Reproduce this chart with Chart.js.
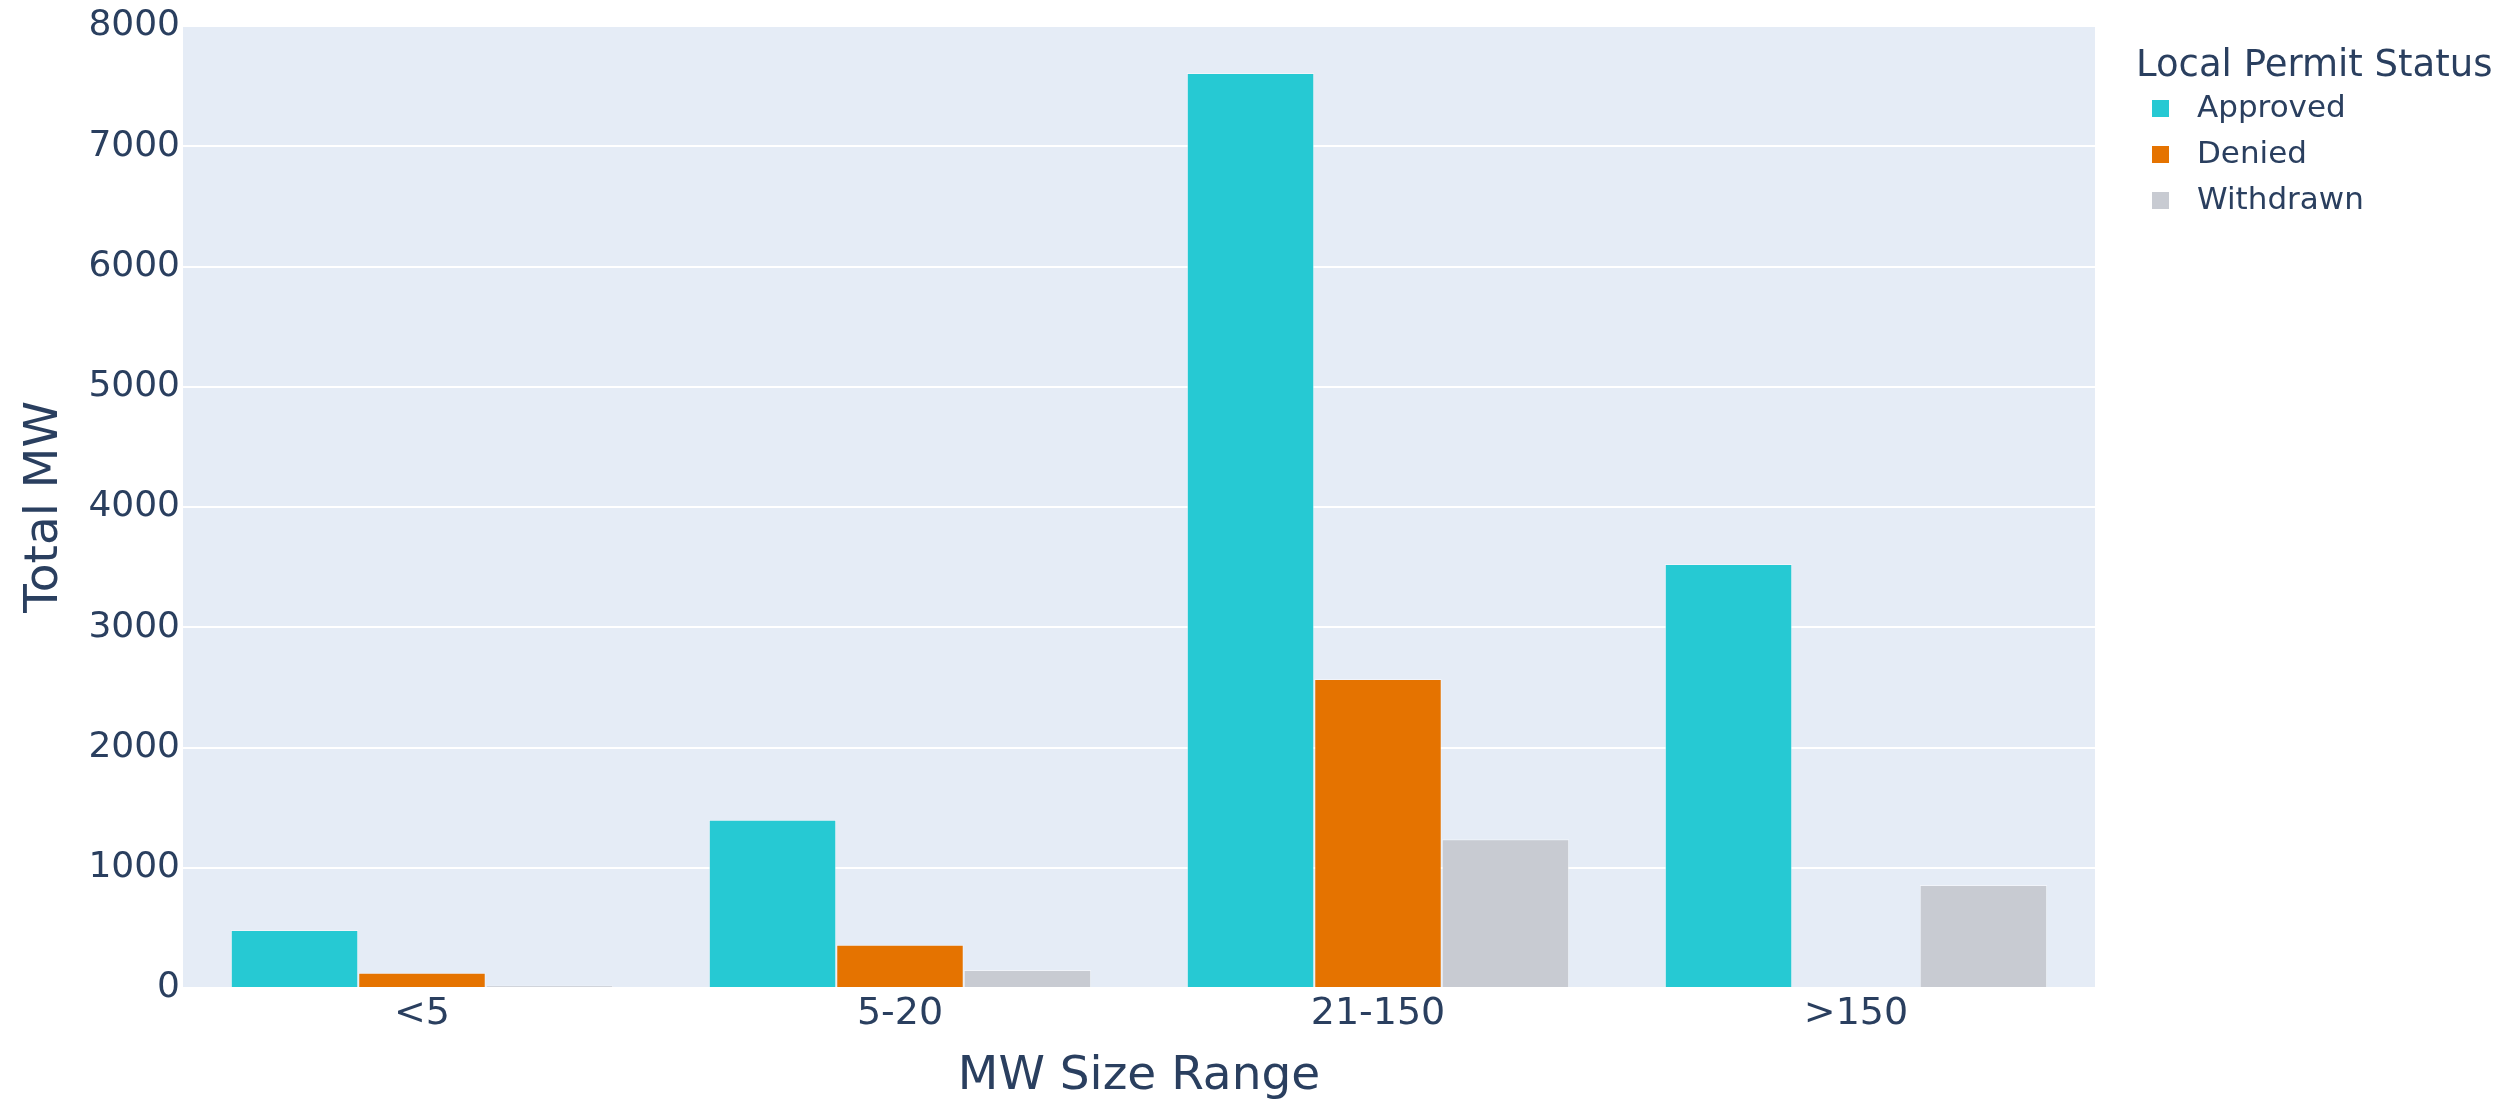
<!DOCTYPE html>
<html>
<head>
<meta charset="utf-8">
<script src="https://cdn.jsdelivr.net/npm/chart.js@4"></script>
<style>
  html, body { margin: 0; padding: 0; background: #ffffff; }
  #wrap { width: 2512px; height: 1105px; }
</style>
</head>
<body>
<div id="wrap"><canvas id="c" width="2512" height="1105"></canvas></div>
<script>
const categories = ['<5', '5-20', '21-150', '>150'];
const approved = [482, 1400, 7610, 3525];
const denied = [127, 360, 2570, 0];
const withdrawn = [20, 150, 1237, 857];
const seriesNames = ['Approved', 'Denied', 'Withdrawn'];
const seriesColors = ['#26C9D3', '#E57300', '#C8CBD2'];
const yTicks = [0, 1000, 2000, 3000, 4000, 5000, 6000, 7000, 8000];
const legendTitle = 'Local Permit Status';
const xTitle = 'MW Size Range';
const yTitle = 'Total MW';

const TEXT = '#2a3f5f';
const FONT = "'DejaVu Sans', Verdana, sans-serif";

const plotBg = {
  id: 'plotBg',
  beforeDraw(chart) {
    const {ctx, chartArea: a} = chart;
    ctx.save();
    ctx.fillStyle = '#E5ECF6';
    ctx.fillRect(a.left, a.top, a.right - a.left, a.bottom - a.top);
    ctx.restore();
  }
};

const sideLegend = {
  id: 'sideLegend',
  afterDraw(chart) {
    const {ctx} = chart;
    ctx.save();
    ctx.fillStyle = TEXT;
    ctx.textBaseline = 'middle';
    ctx.textAlign = 'left';
    ctx.font = '37px ' + FONT;
    ctx.fillText(legendTitle, 2136, 66);
    ctx.font = '31px ' + FONT;
    chart.data.datasets.forEach((ds, i) => {
      const cy = 108 + i * 46;
      ctx.fillStyle = ds.backgroundColor;
      ctx.fillRect(2152, cy - 8, 17, 17);
      ctx.fillStyle = TEXT;
      ctx.fillText(ds.label, 2197, cy + 1);
    });
    ctx.restore();
  }
};

const datasets = [approved, denied, withdrawn].map((vals, i) => ({
  label: seriesNames[i],
  data: vals,
  backgroundColor: seriesColors[i],
  borderColor: 'rgba(255,255,255,0.45)',
  borderWidth: 1,
  categoryPercentage: 0.8,
  barPercentage: 1.0
}));

new Chart(document.getElementById('c'), {
  type: 'bar',
  data: { labels: categories, datasets },
  plugins: [plotBg, sideLegend],
  options: {
    responsive: false,
    animation: false,
    devicePixelRatio: 1,
    layout: { padding: { left: 0, right: 417, top: 26, bottom: 0 } },
    plugins: { legend: { display: false }, tooltip: { enabled: false } },
    scales: {
      x: {
        grid: { display: false, drawTicks: false },
        border: { display: false },
        ticks: { color: TEXT, font: { family: FONT, size: 38 }, padding: 3, maxRotation: 0 },
        title: { display: true, text: xTitle, color: TEXT, font: { family: FONT, size: 47 }, padding: { top: 0, bottom: 0 } },
        afterFit(scale) { scale.height = 117; }
      },
      y: {
        min: 0, max: 8000,
        grid: { color: '#ffffff', lineWidth: 2, drawTicks: false },
        border: { display: false },
        afterBuildTicks(scale) { scale.ticks = yTicks.map(v => ({ value: v })); },
        ticks: { color: TEXT, font: { family: FONT, size: 36 }, padding: 3, callback: v => String(v) },
        title: { display: true, text: yTitle, color: TEXT, font: { family: FONT, size: 47 }, padding: { top: 17, bottom: 0 } },
        afterFit(scale) { scale.width = 183; }
      }
    }
  }
});
</script>
</body>
</html>
